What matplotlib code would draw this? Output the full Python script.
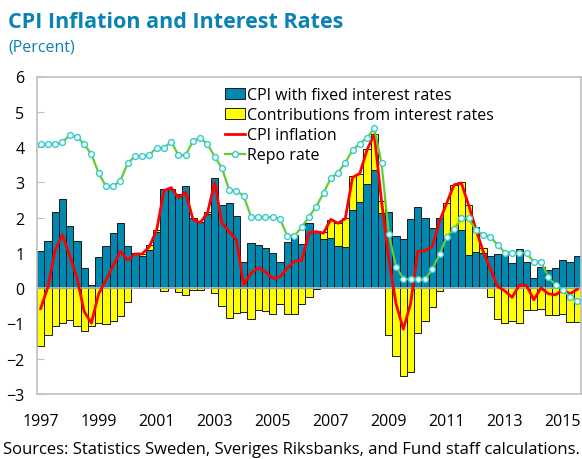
import numpy as np
import matplotlib
matplotlib.use("Agg")
import matplotlib.pyplot as plt
from matplotlib.lines import Line2D
from matplotlib.patches import Patch

plt.rcParams['font.family'] = ['Open Sans', 'DejaVu Sans']

# quarterly data, 1997Q1 - 2015Q3
years = ['1997', '1999', '2001', '2003', '2005', '2007', '2009', '2011', '2013', '2015']

cpif = [1.05, 1.35, 2.15, 2.54, 1.75, 1.33, 0.58, 0.08, 0.88, 1.19,
        1.56, 1.84, 1.19, 0.99, 0.90, 1.09, 1.58, 2.81, 2.82, 2.68,
        2.89, 1.98, 1.88, 2.10, 3.11, 2.36, 2.42, 2.04, 0.74, 1.29,
        1.23, 1.15, 1.00, 0.75, 1.30, 1.50, 1.25, 1.84, 1.62, 1.38,
        1.42, 1.20, 1.18, 2.22, 2.44, 2.94, 3.34, 2.12, 2.17, 1.49,
        1.40, 1.96, 2.31, 1.98, 1.70, 2.00, 1.42, 1.62, 1.66, 0.94,
        1.02, 0.99, 0.90, 0.97, 0.94, 0.71, 1.10, 0.75, 0.28, 0.61,
        0.52, 0.58, 0.80, 0.75, 0.92]

contrib = [-1.64, -1.33, -1.07, -0.99, -0.89, -1.07, -1.22, -1.08, -0.99, -1.01,
           -0.92, -0.80, -0.38, 0.00, 0.08, 0.12, 0.07, -0.07, 0.00, -0.11,
           -0.18, -0.04, -0.05, 0.06, -0.13, -0.50, -0.84, -0.71, -0.67, -0.87,
           -0.63, -0.65, -0.72, -0.44, -0.74, -0.74, -0.46, -0.26, -0.03, 0.20,
           0.52, 0.66, 0.80, 0.96, 0.81, 1.01, 1.04, 0.35, -1.32, -1.92,
           -2.50, -2.37, -1.27, -0.92, -0.52, -0.09, 1.00, 1.30, 1.34, 1.42,
           0.70, 0.14, -0.24, -0.87, -0.99, -0.94, -0.99, -0.63, -0.61, -0.59,
           -0.75, -0.76, -0.74, -0.96, -0.97]

cpi = [-0.58, 0.03, 1.07, 1.51, 0.92, 0.31, -0.66, -0.99, -0.16, 0.22,
       0.64, 1.04, 0.80, 0.97, 0.97, 1.18, 1.65, 2.76, 2.85, 2.56,
       2.72, 1.95, 1.86, 2.13, 3.00, 1.85, 1.60, 1.36, 0.10, 0.42,
       0.58, 0.46, 0.28, 0.32, 0.57, 0.76, 0.79, 1.57, 1.60, 1.56,
       1.95, 1.84, 1.97, 3.14, 3.25, 3.92, 4.36, 2.47, 0.82, -0.44,
       -1.16, -0.45, 1.04, 1.06, 1.18, 1.90, 2.42, 2.93, 2.98, 2.36,
       1.68, 1.05, 0.55, 0.05, -0.08, -0.26, 0.09, 0.07, -0.33, 0.01,
       -0.16, -0.19, -0.04, -0.16, -0.03]

repo = [4.08, 4.08, 4.08, 4.13, 4.34, 4.29, 4.08, 3.80, 3.26, 2.89,
        2.89, 3.05, 3.54, 3.74, 3.74, 3.78, 3.98, 3.98, 4.15, 3.77,
        3.77, 4.17, 4.26, 4.08, 3.73, 3.40, 2.78, 2.76, 2.61, 2.03,
        2.01, 2.01, 2.01, 1.96, 1.49, 1.49, 1.73, 2.03, 2.31, 2.70,
        3.11, 3.27, 3.56, 3.91, 4.10, 4.26, 4.53, 3.54, 1.53, 0.61,
        0.26, 0.25, 0.25, 0.25, 0.54, 0.96, 1.46, 1.67, 1.98, 1.98,
        1.65, 1.51, 1.46, 1.23, 1.01, 1.01, 1.01, 0.99, 0.75, 0.75,
        0.31, 0.08, -0.05, -0.25, -0.35]

blue = '#0088b0'
yellow = '#ffff00'
title_col = '#0a82b4'

x = np.arange(len(cpif))
cpif_a = np.array(cpif)
contrib_a = np.array(contrib)
bottom = np.where(contrib_a > 0, cpif_a, 0)

fig = plt.figure(figsize=(5.82, 4.60), dpi=100)
ax = fig.add_axes([37 / 582, 1 - 395 / 460, 544 / 582, (395 - 77.5) / 460])

ax.bar(x, cpif_a, width=1.0, color=blue, edgecolor='#1a1a1a', linewidth=0.7, zorder=2)
ax.bar(x, contrib_a, width=1.0, bottom=bottom, color=yellow, edgecolor='#1a1a1a',
       linewidth=0.7, zorder=2)
ax.axhline(0, color='#bfbfbf', linewidth=1.2, zorder=3)
ax.plot(x, cpi, color='#ff0000', linewidth=2.0, zorder=4)
ax.plot(x, repo, color='#66cc33', linewidth=1.6, marker='o', markersize=4.2,
        markerfacecolor='white', markeredgecolor='#33cccc', markeredgewidth=1.0, zorder=5)

ax.set_xlim(-0.5, len(cpif) - 0.5)
ax.set_ylim(-3, 6)
ax.set_yticks(range(-3, 7))
ax.set_xticks(np.arange(0, len(cpif), 8))
ax.set_xticklabels(years)
for s in ax.spines.values():
    s.set_color('#bfbfbf')
    s.set_linewidth(1.2)
ax.tick_params(axis='y', direction='in', length=5, color='#bfbfbf', labelsize=11.5, pad=9)
ax.tick_params(axis='x', length=0, labelsize=11.5, pad=14)

handles = [Patch(facecolor=blue, edgecolor='#1a1a1a', linewidth=0.7),
           Patch(facecolor=yellow, edgecolor='#1a1a1a', linewidth=0.7),
           Line2D([], [], color='#ff0000', linewidth=2.0),
           Line2D([], [], color='#66cc33', linewidth=1.6, marker='o', markersize=4.2,
                  markerfacecolor='white', markeredgecolor='#33cccc')]
labels = ['CPI with fixed interest rates', 'Contributions from interest rates',
          'CPI inflation', 'Repo rate']
ax.legend(handles, labels, loc='upper left', bbox_to_anchor=((225 - 37) / 544, 0.967),
          frameon=False, fontsize=11.5, handlelength=1.25, handletextpad=0.15,
          labelspacing=0.26, borderaxespad=0, borderpad=0)

fig.text(8 / 582, 1 - 22 / 460, 'CPI Inflation and Interest Rates', fontsize=15.5,
         fontweight='bold', color=title_col, va='center')
fig.text(8 / 582, 1 - 47 / 460, '(Percent)', fontsize=11.5, color=title_col, va='center')
fig.text(3 / 582, 1 - 450 / 460, 'Sources: Statistics Sweden, Sveriges Riksbanks, and Fund staff calculations.',
         fontsize=12, color='black', va='center')

fig.savefig('out.png', dpi=100)
